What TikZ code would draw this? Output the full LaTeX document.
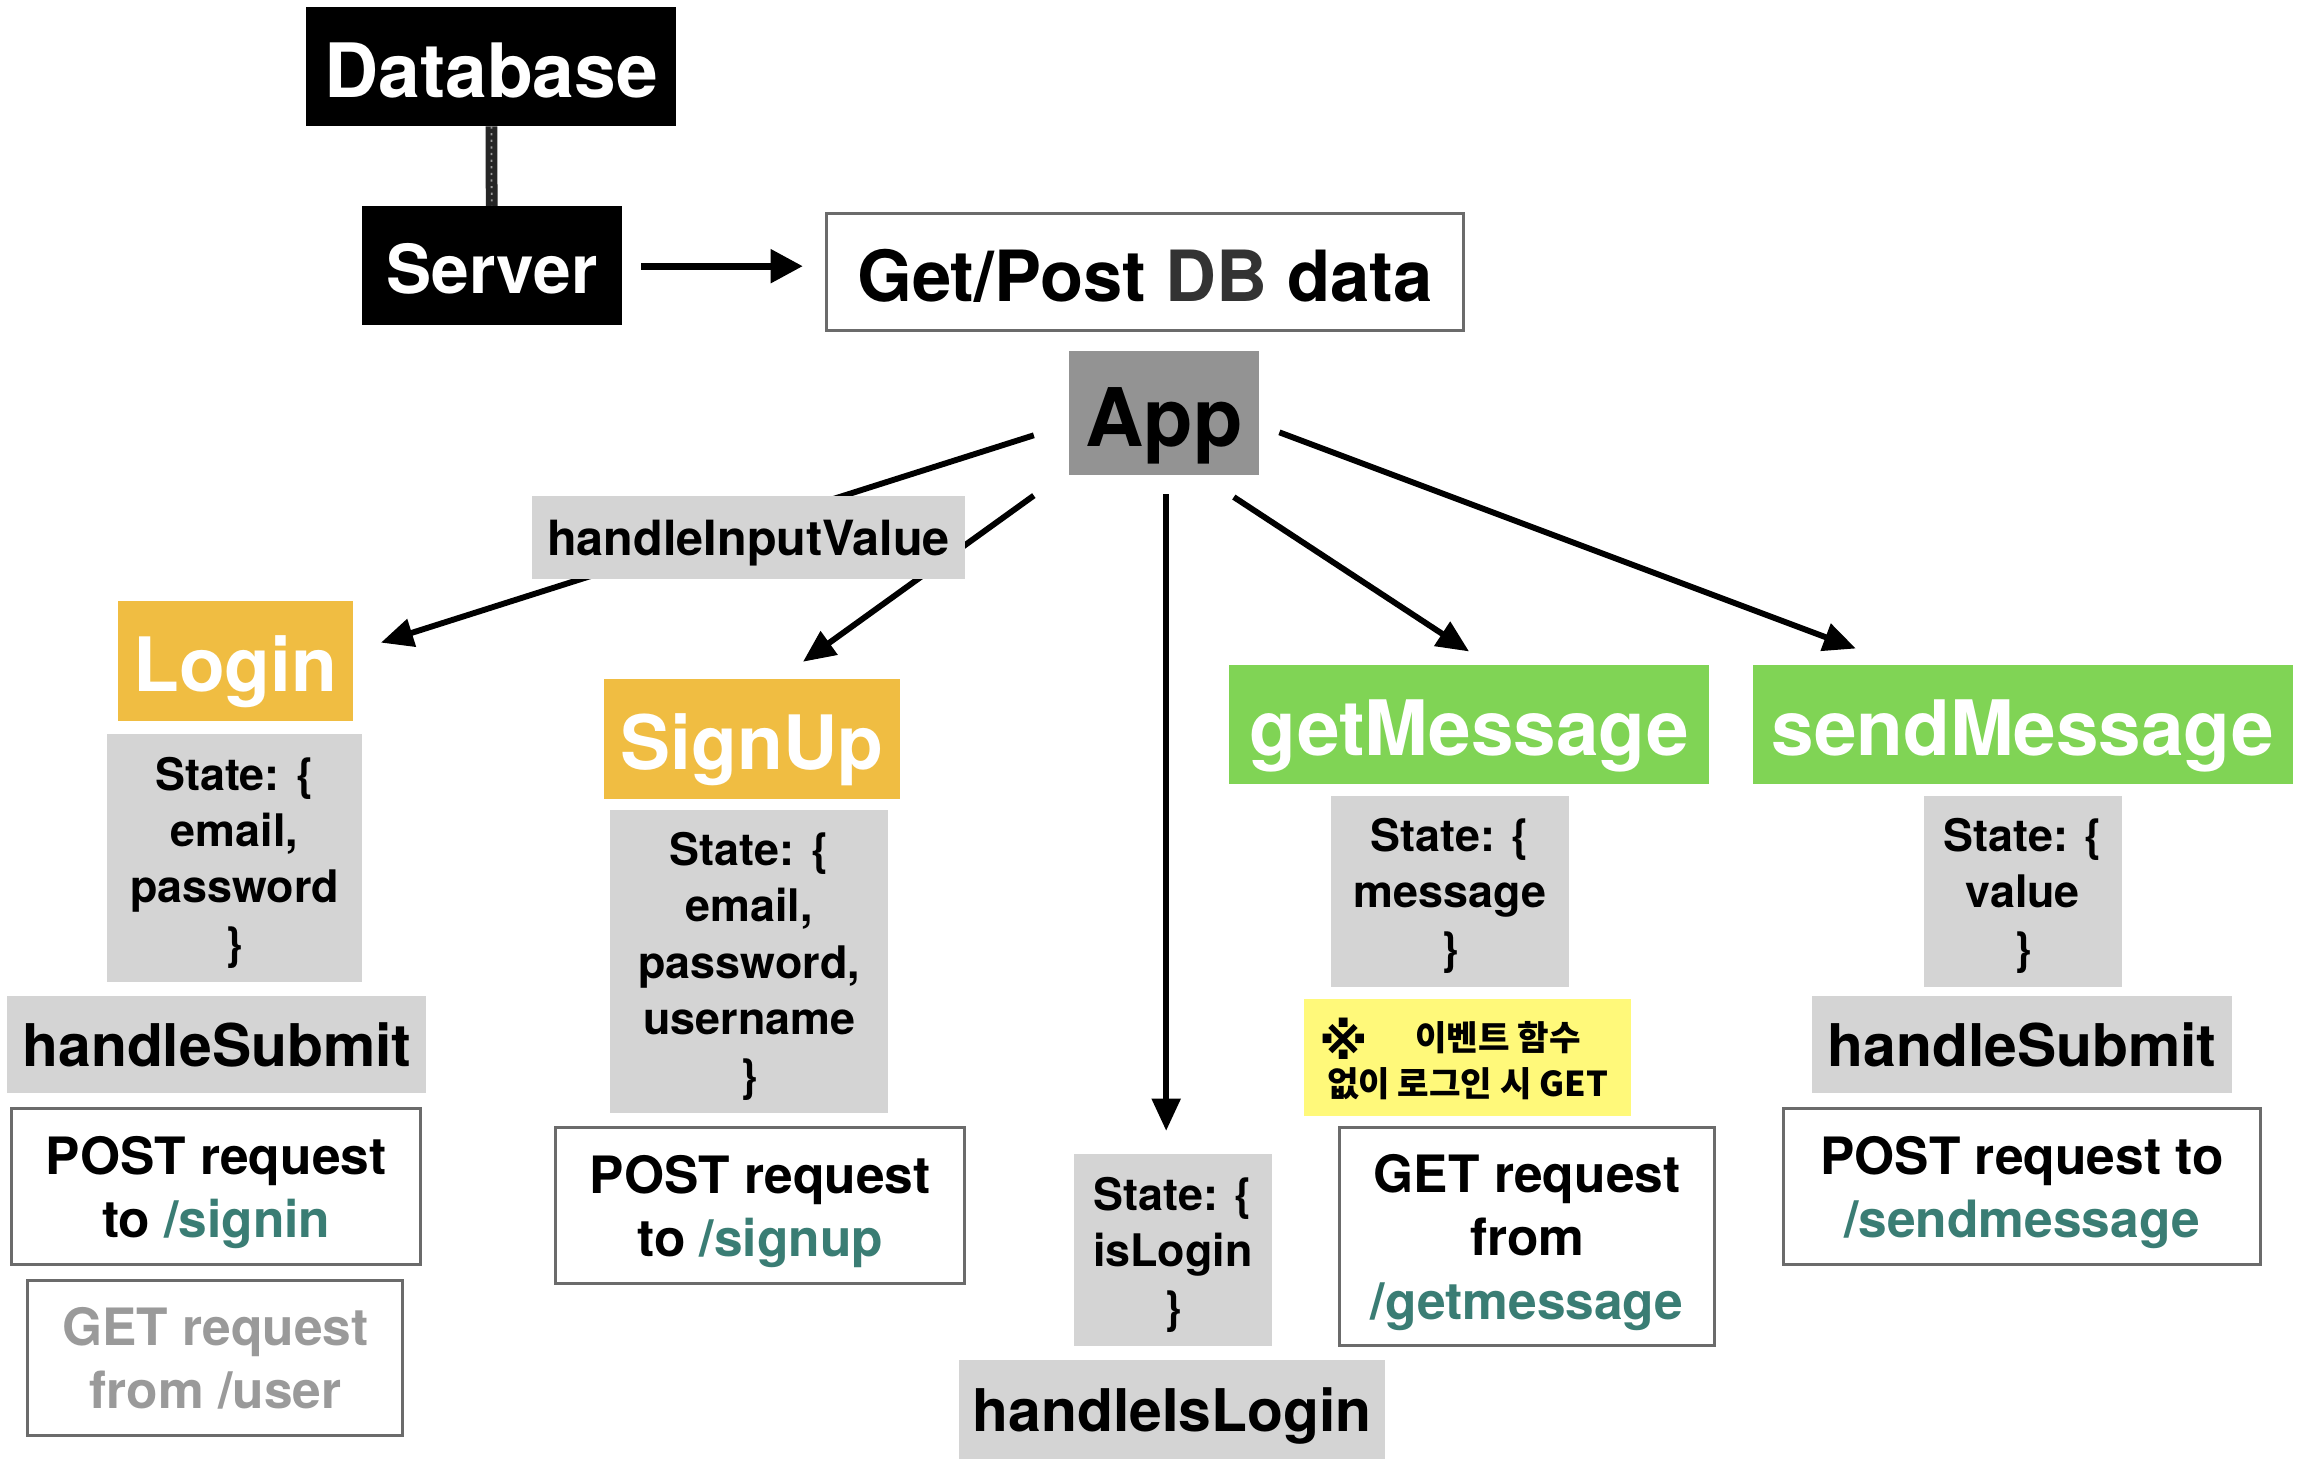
\documentclass[tikz,border=0pt]{standalone}
\usepackage{fontspec}
\setmainfont{TeX Gyre Heros}
\newfontfamily\krfont{Noto Sans CJK KR}
\newfontfamily\symfont{DejaVu Sans}
\usetikzlibrary{arrows.meta,backgrounds}
\definecolor{orng}{HTML}{F0BD42}
\definecolor{grn}{HTML}{80D455}
\definecolor{lgray}{HTML}{D4D4D4}
\definecolor{appgray}{HTML}{939393}
\definecolor{teal2}{HTML}{3A7D74}
\definecolor{bordergray}{HTML}{6B6B6B}
\definecolor{notey}{HTML}{FFF97A}
\definecolor{fadedtext}{HTML}{9A9A9A}
\definecolor{dbgray}{HTML}{333333}
\newcommand\myfs[2]{\fontsize{#1}{#2}\selectfont}
\newcommand\tup{\rule{0pt}{\dimexpr0.72em+5pt\relax}}
\tikzset{
  box/.style={inner sep=0pt, outer sep=0pt, align=center, font=\bfseries, text depth=0pt},
  blk/.style={box, fill=black, text=white},
  comp/.style={box, text=white, font={\bfseries\myfs{51}{60}}},
  statebox/.style={box, fill=lgray, font={\bfseries\myfs{30.5}{38.4}}},
  fnbox/.style={box, fill=lgray, font={\bfseries\myfs{40}{48}}},
  reqbox/.style={box, fill=white, draw=bordergray, line width=2, font={\bfseries\myfs{35}{43}}},
  arr/.style={line width=4, -{Triangle[length=22,width=19]}},
}
\begin{document}
\begin{tikzpicture}[x=1pt,y=-1pt]
\useasboundingbox (0,0) rectangle (1564,998);
% top
\node[blk, minimum width=252, minimum height=81, font={\bfseries\myfs{51}{60}}] (db) at (334,45.5) {\tup Database};
\node[blk, minimum width=177, minimum height=81, font={\bfseries\myfs{46}{56}}] (server) at (334.5,180.5) {\tup Server};
\node[box, fill=white, draw=bordergray, line width=2, minimum width=433, minimum height=80, font={\bfseries\myfs{48}{56}}] (getpost) at (778.5,185) {\tup Get/Post \textcolor{dbgray}{DB} data};
\node[box, fill=appgray, minimum width=129, minimum height=84, font={\bfseries\myfs{55}{64}}] (app) at (791.5,281) {\tup App};
\node[box, fill=lgray, minimum width=294, minimum height=57, font={\bfseries\myfs{33}{40}}] (hiv) at (509,365.5) {handleInputValue};
% login column
\node[comp, fill=orng, minimum width=160, minimum height=81] (login) at (160,449.5) {\tup Login};
\node[statebox, minimum width=173, minimum height=169] (loginstate) at (159.5,583.5) {State: \{\\email,\\password\\\}};
\node[fnbox, minimum width=285, minimum height=66] (hsub1) at (147.5,710) {handleSubmit};
\node[reqbox, minimum width=278, minimum height=106] (postsignin) at (147,807) {POST request\\to \textcolor{teal2}{/signin}};
\node[reqbox, minimum width=255, minimum height=105, text=fadedtext] (getuser) at (146.5,923.5) {GET request\\from /user};
% signup column
\node[comp, fill=orng, minimum width=201, minimum height=81] (signup) at (511.5,502.5) {\tup SignUp};
\node[statebox, minimum width=189, minimum height=206] (signupstate) at (509.5,654) {State: \{\\email,\\password,\\username\\\}};
\node[reqbox, minimum width=278, minimum height=106] (postsignup) at (517,820) {POST request\\to \textcolor{teal2}{/signup}};
% islogin column
\node[statebox, minimum width=135, minimum height=130] (isloginstate) at (797.5,850) {State: \{\\isLogin\\\}};
\node[fnbox, minimum width=290, minimum height=67] (handleislogin) at (797,958.5) {handleIsLogin};
% getMessage column
\node[comp, fill=grn, minimum width=326, minimum height=81, font={\bfseries\myfs{52}{60}}] (getmsg) at (999,492.5) {\tup getMessage};
\node[statebox, minimum width=162, minimum height=130] (getmsgstate) at (986,606) {State: \{\\message\\\}};
\node[box, fill=notey, minimum width=222, minimum height=80, align=left, font={\krfont\bfseries\myfs{23.3}{31}}] (note) at (998,719) {\hspace*{-5pt}\raisebox{-6pt}{\symfont\bfseries\myfs{34}{34}※}\hspace{32pt}이벤트 함수\\없이 로그인 시 GET};
\node[reqbox, minimum width=255, minimum height=148] (getmsgreq) at (1038.5,841) {GET request\\from\\\textcolor{teal2}{/getmessage}};
% sendMessage column
\node[comp, fill=grn, minimum width=367, minimum height=81, font={\bfseries\myfs{52}{60}}] (sendmsg) at (1375.5,492.5) {\tup sendMessage};
\node[statebox, minimum width=135, minimum height=130] (sendstate) at (1375.5,606) {State: \{\\value\\\}};
\node[fnbox, minimum width=286, minimum height=66] (hsub2) at (1375,710) {handleSubmit};
\node[reqbox, minimum width=324, minimum height=106] (postsend) at (1375,807) {POST request to\\\textcolor{teal2}{/sendmessage}};
% connector end points
\coordinate (srvA) at (436,181);
\coordinate (srvB) at (546,181);
\coordinate (a1s) at (703,296);
\coordinate (a1e) at (259,437);
\coordinate (a2s) at (703,337);
\coordinate (a2e) at (546,450);
\coordinate (a3s) at (793,336);
\coordinate (a3e) at (793,769);
\coordinate (a4s) at (839,338);
\coordinate (a4e) at (999,443);
\coordinate (a5s) at (870,294);
\coordinate (a5e) at (1262,441);
\begin{scope}[on background layer]
\fill[white] (0,0) rectangle (1564,998);
\draw[line width=8, black!85] (db) -- (server);
\draw[line width=1.2, white!60!black, dash pattern=on 1.5 off 3] (db) -- (server);
\draw[line width=5, -{Triangle[length=22,width=22]}] (srvA) -- (srvB);
\draw[arr] (a1s) -- (a1e);
\draw[arr] (a2s) -- (a2e);
\draw[arr] (a3s) -- (a3e);
\draw[arr] (a4s) -- (a4e);
\draw[arr] (a5s) -- (a5e);
\end{scope}
\end{tikzpicture}
\end{document}
